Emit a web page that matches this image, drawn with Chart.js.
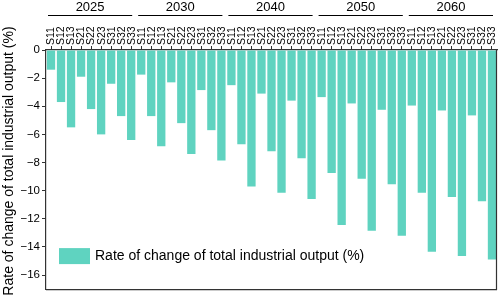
<!DOCTYPE html>
<html>
<head>
<meta charset="utf-8">
<script src="https://cdn.jsdelivr.net/npm/chart.js@4"></script>
<style>
  html, body { margin: 0; padding: 0; background: #fff; }
  #wrap { width: 498px; height: 298px; }
</style>
</head>
<body>
<div id="wrap"><canvas id="rateChart"></canvas></div>
<script>
// ---------- DATA ----------
const years = ["2025", "2030", "2040", "2050", "2060"];
const scenarios = ["S11", "S12", "S13", "S21", "S22", "S23", "S31", "S32", "S33"];
const values2025 = [-1.4, -3.7, -5.5, -1.9, -4.2, -6.0, -2.4, -4.7, -6.4];
const values2030 = [-1.75, -4.7, -6.85, -2.3, -5.2, -7.4, -2.85, -5.7, -7.85];
const values2040 = [-2.5, -6.7, -9.7, -3.1, -7.2, -10.15, -3.6, -7.7, -10.6];
const values2050 = [-3.35, -8.75, -12.45, -3.8, -9.15, -12.85, -4.25, -9.55, -13.2];
const values2060 = [-3.95, -10.15, -14.35, -4.3, -10.45, -14.65, -4.65, -10.75, -14.9];
const seriesLabel = "Rate of change of total industrial output (%)";
const yTitle = "Rate of change of total industrial output (%)";

const barColor = "#5fd3c0";
const axisColor = "#333";
const fontFamily = "'Liberation Sans', Arial, sans-serif";

const labels = [];
years.forEach(() => scenarios.forEach(s => labels.push(s)));
const allValues = [].concat(values2025, values2030, values2040, values2050, values2060);

// ---------- PLUGINS ----------
// rotated scenario labels, year labels and bracket lines above the plot
const topLabels = {
  id: "topLabels",
  afterDraw(chart) {
    const { ctx, scales: { x }, chartArea: a } = chart;
    const n = scenarios.length;
    const half = (x.getPixelForValue(1) - x.getPixelForValue(0)) / 2;
    ctx.save();
    ctx.fillStyle = "#000";

    // scenario labels, reading bottom to top
    ctx.font = "10.5px " + fontFamily;
    ctx.textAlign = "left";
    ctx.textBaseline = "middle";
    labels.forEach((lab, i) => {
      ctx.save();
      ctx.translate(x.getPixelForValue(i) + 0.5, a.top - 5);
      ctx.rotate(-Math.PI / 2);
      ctx.fillText(lab, 0, 0);
      ctx.restore();
    });

    // year headers
    ctx.font = "13px " + fontFamily;
    ctx.textAlign = "center";
    ctx.strokeStyle = "#000";
    ctx.lineWidth = 1;
    years.forEach((yr, g) => {
      const left = x.getPixelForValue(g * n) - half + 2;
      const right = x.getPixelForValue(g * n + n - 1) + half - 4;
      ctx.beginPath();
      ctx.moveTo(left, 15.5);
      ctx.lineTo(right, 15.5);
      ctx.stroke();
      ctx.fillText(yr, (left + right) / 2, 7);
    });
    ctx.restore();
  }
};

// box around the plot, y title and legend inside bottom-left
const frameAndLegend = {
  id: "frameAndLegend",
  afterDraw(chart) {
    const { ctx, chartArea: a } = chart;
    ctx.save();
    ctx.strokeStyle = axisColor;
    ctx.lineWidth = 1.2;
    ctx.beginPath();
    ctx.moveTo(a.left, a.bottom + 0.5);
    ctx.lineTo(a.right - 0.5, a.bottom + 0.5);
    ctx.lineTo(a.right - 0.5, a.top);
    ctx.stroke();

    // y title
    ctx.save();
    ctx.translate(9, 161);
    ctx.rotate(-Math.PI / 2);
    ctx.fillStyle = "#000";
    ctx.font = "14px " + fontFamily;
    ctx.textAlign = "center";
    ctx.textBaseline = "middle";
    ctx.fillText(yTitle, 0, 0);
    ctx.restore();

    // legend
    const ds = chart.data.datasets[0];
    const sx = a.left + 13, sy = a.bottom - 41;
    ctx.fillStyle = ds.backgroundColor;
    ctx.fillRect(sx, sy, 31, 16);
    ctx.fillStyle = "#000";
    ctx.font = "14px " + fontFamily;
    ctx.textAlign = "left";
    ctx.textBaseline = "middle";
    ctx.fillText(ds.label, sx + 36, sy + 8.5);
    ctx.restore();
  }
};

// ---------- CHART ----------
new Chart(document.getElementById("rateChart"), {
  type: "bar",
  data: {
    labels: labels,
    datasets: [{
      label: seriesLabel,
      data: allValues,
      backgroundColor: barColor,
      categoryPercentage: 1,
      barPercentage: 0.83
    }]
  },
  options: {
    responsive: true,
    maintainAspectRatio: false,
    animation: false,
    layout: { padding: { top: 0, right: 1, bottom: 2, left: 0 } },
    plugins: { legend: { display: false }, tooltip: { enabled: false } },
    scales: {
      x: {
        position: "top",
        afterFit(scale) { scale.height = 50; },
        grid: { display: true, drawOnChartArea: false, offset: false, tickLength: 4, color: axisColor },
        border: { display: true, color: axisColor, width: 1.2 },
        ticks: { display: false, autoSkip: false }
      },
      y: {
        min: -17, max: 0,
        afterFit(scale) { scale.width = 46; },
        afterBuildTicks(axis) {
          axis.ticks = axis.ticks.filter(t => t.value % 2 === 0);
        },
        grid: { display: true, drawOnChartArea: false, tickLength: 4, color: axisColor },
        border: { display: true, color: axisColor, width: 1.2 },
        ticks: {
          stepSize: 2, padding: 2, color: "#000",
          font: { family: fontFamily, size: 11.5 },
          callback: v => (v < 0 ? "\u2212" + Math.abs(v) : v)
        }
      }
    }
  },
  plugins: [topLabels, frameAndLegend]
});
</script>
</body>
</html>
